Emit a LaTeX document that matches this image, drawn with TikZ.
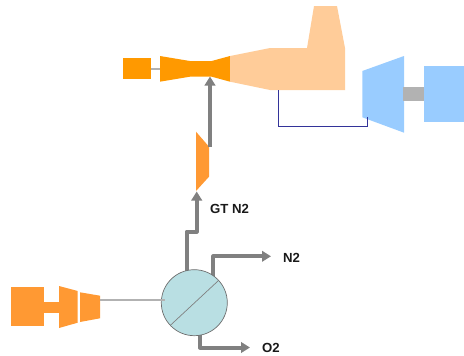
\documentclass[tikz,border=0pt]{standalone}
\usepackage{fontspec}
\setmainfont{Liberation Sans}
\usetikzlibrary{arrows.meta}
\definecolor{orA}{HTML}{FF9900}
\definecolor{orB}{HTML}{FF9933}
\definecolor{peach}{HTML}{FFCC99}
\definecolor{skyb}{HTML}{99CCFF}
\definecolor{pipe}{HTML}{808080}
\definecolor{shaft}{HTML}{B2B2B2}
\definecolor{navy}{HTML}{333399}
\definecolor{sepc}{HTML}{B9DFE3}
\tikzset{
  pipeline/.style={draw=pipe,line width=4pt,line join=round,-{Triangle[width=10.5pt,length=9pt]}},
  thinlink/.style={draw=shaft,line width=1.1pt},
  lab/.style={font=\bfseries\fontsize{13.2}{15}\selectfont,text=black!90,inner sep=0pt},
}
\begin{document}
\begin{tikzpicture}[x=1pt,y=-1pt]
\useasboundingbox (0,0) rectangle (464,356);
% coordinates
\coordinate (inA) at (151,69);
\coordinate (inB) at (160,69);
\coordinate (tb) at (210,146.7);
\coordinate (noz) at (210,76.5);
\coordinate (gtin) at (196.7,191.5);
\coordinate (cold) at (278.3,90);
\coordinate (blue) at (367.7,117.3);
\coordinate (bluecorner) at (367.7,126.3);
\coordinate (asu) at (99.5,300);
\coordinate (asuin) at (165,300);
\coordinate (n2end) at (271,256.3);
\coordinate (o2end) at (250,347.5);
% thin links
\draw[thinlink] (inA) -- (inB);
% gas turbine
\fill[orA] (123,58) rectangle (151,79);
\fill[orA] (160,56) -- (190,61) -- (211.7,61) -- (230,56) -- (230,81.7) -- (211.7,76.7) -- (190,76.7) -- (160,81.7) -- cycle;
\fill[peach] (230,56) -- (270,48) -- (307,48) -- (314,6) -- (337,6) -- (345,48) -- (345,90) -- (270,90) -- (230,81.7) -- cycle;
% steam turbine and generator
\fill[skyb] (362.3,71) -- (404,56) -- (404,132.7) -- (362.3,117.3) -- cycle;
\fill[shaft] (403,87) rectangle (424,100.7);
\fill[skyb] (424,66) rectangle (464,122);
% steam line
\draw[navy,line width=0.8pt] (cold) |- (bluecorner) -- (blue);
% expander
\fill[orB] (196,131.7) -- (209,146.7) -- (209,176.7) -- (196,191) -- cycle;
\draw[pipeline] (tb) -- (noz);
% air compressor train
\fill[orB] (11,287) rectangle (44,325.7);
\fill[orB] (44,302) rectangle (59,312.7);
\fill[orB] (59,286) -- (77.7,291) -- (77.7,322.7) -- (59,328) -- cycle;
\fill[orB] (80,292.3) -- (100,295.7) -- (100,318.3) -- (80,322) -- cycle;
% pipes
\draw[pipeline] (186.7,272) |- (196.7,231.5) -- (gtin);
\draw[pipeline] (213.3,278) |- (n2end);
\draw[pipeline] (200,332) |- (o2end);
% separator
\node[circle,draw=pipe!85!black,fill=sepc,line width=0.7pt,minimum size=66pt,inner sep=0pt] (sep) at (194.3,302.7) {};
\draw[thinlink] (asu) -- (asuin);
\draw[pipe,line width=0.7pt] (170.7,325) -- (218.3,280.7);
% labels
\node[lab,anchor=west] (gt) at (210,209) {GT N2};
\node[lab,anchor=west] (n2) at (283,258) {N2};
\node[lab,anchor=west] (o2) at (262,348) {O2};
\end{tikzpicture}
\end{document}
